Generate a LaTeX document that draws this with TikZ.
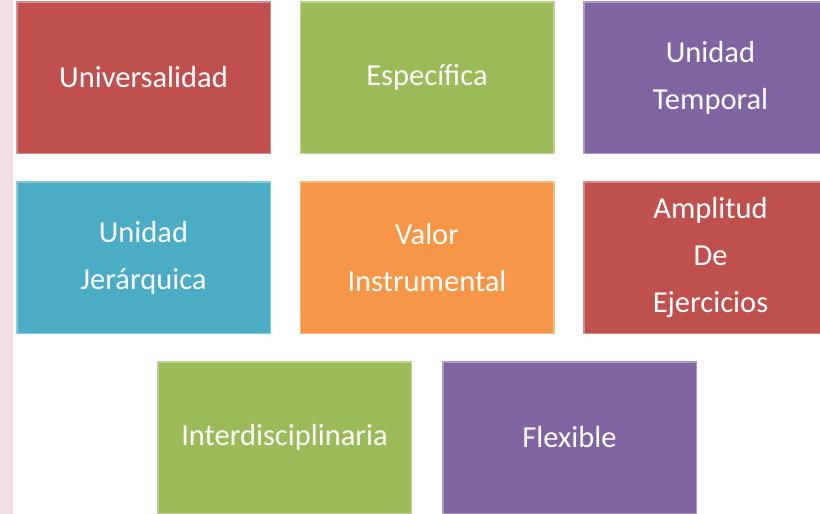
\documentclass[tikz,border=0pt]{standalone}
\usepackage{fontspec}
\setmainfont{Carlito}
\definecolor{cred}{HTML}{C0504D}
\definecolor{cgreen}{HTML}{9BBB59}
\definecolor{cpurple}{HTML}{8064A2}
\definecolor{cblue}{HTML}{4BACC6}
\definecolor{corange}{HTML}{F79646}
\definecolor{strip}{HTML}{F3DFE5}
\tikzset{
  tile/.style={rectangle, minimum width=255pt, minimum height=153pt, inner sep=0pt,
    draw=white, draw opacity=0.35, line width=3pt, text=white, align=center,
    font=\fontsize{30.5}{47}\selectfont},
}
\begin{document}
\begin{tikzpicture}[x=1pt,y=-1pt]
\useasboundingbox (0,0) rectangle (820,514);
\begin{scope}
\clip (0,0) rectangle (820,514);
\fill[strip] (0,0) rectangle (13,514);
\node[tile, fill=cred]    (b1) at (143.5,77.5) {Universalidad};
\node[tile, fill=cgreen]  (b2) at (427,77.5) {Específica};
\node[tile, fill=cpurple] (b3) at (710.5,77.5) {Unidad\\Temporal};
\node[tile, fill=cblue]   (b4) at (143.5,257.5) {Unidad\\Jerárquica};
\node[tile, fill=corange] (b5) at (427,257.5) {Valor\\Instrumental};
\node[tile, fill=cred]    (b6) at (710.5,257.5) {Amplitud\\De\\Ejercicios};
\node[tile, fill=cgreen]  (b7) at (284.5,437.5) {Interdisciplinaria};
\node[tile, fill=cpurple] (b8) at (569.5,437.5) {Flexible};
\end{scope}
\end{tikzpicture}
\end{document}
